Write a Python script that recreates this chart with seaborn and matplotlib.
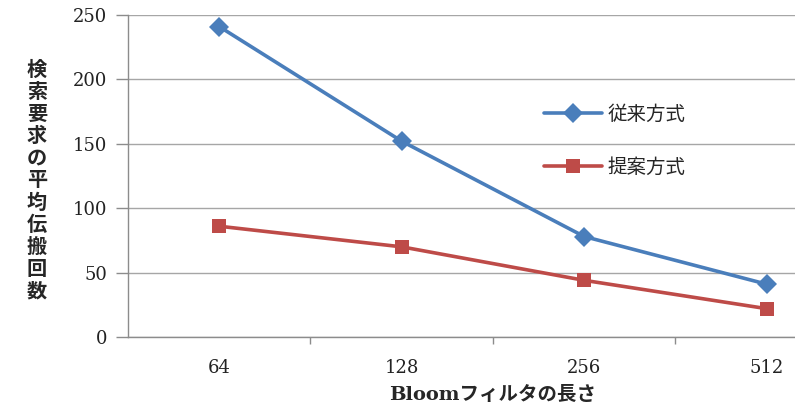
import pandas as pd
import matplotlib.pyplot as plt
import seaborn as sns

# Data
lengths = ['64', '128', '256', '512']
conventional = [241, 152, 78, 41]
proposed = [86, 70, 44, 22]
series_names = ['従来方式', '提案方式']

df = pd.DataFrame({
    'pos': list(range(len(lengths))) * 2,
    'value': conventional + proposed,
    'method': [series_names[0]] * len(lengths) + [series_names[1]] * len(lengths),
})

sns.set_style('white')
plt.rcParams['font.family'] = ['Noto Sans CJK JP', 'DejaVu Sans']

fig = plt.figure(figsize=(7.95, 4.09), dpi=100)
ax = fig.add_axes([128 / 795, 1 - 337 / 409, 1 - 128 / 795, (337 - 15) / 409])

palette = {series_names[0]: '#4a7ebb', series_names[1]: '#be4b48'}
markers = {series_names[0]: 'D', series_names[1]: 's'}
sns.lineplot(data=df, x='pos', y='value', hue='method', style='method',
             palette=palette, markers=markers, dashes=False, linewidth=2.6,
             markersize=10.5, markeredgewidth=0, ax=ax, clip_on=False)

ax.set_ylim(0, 250)
ax.set_xlim(-0.5, 3.155)
ax.set_yticks(range(0, 251, 50))
ax.set_xticks(range(len(lengths)))
ax.set_xticklabels(lengths)
ax.set_xticks([0.5, 1.5, 2.5], minor=True)

grey = '#8c8c8c'
ax.grid(axis='y', color='#a6a6a6', linewidth=1)
ax.set_axisbelow(True)
for side in ['top', 'right']:
    ax.spines[side].set_visible(False)
for side in ['left', 'bottom']:
    ax.spines[side].set_color(grey)
    ax.spines[side].set_linewidth(1)

ax.tick_params(axis='y', which='major', length=9, width=1, color=grey,
               direction='out', left=True, pad=6)
ax.tick_params(axis='x', which='major', length=0, pad=16)
ax.tick_params(axis='x', which='minor', length=5, width=1, color=grey,
               direction='out', bottom=True)
for lbl in ax.get_xticklabels() + ax.get_yticklabels():
    lbl.set_family(['DejaVu Serif'])
    lbl.set_fontsize(13)
    lbl.set_color('#222222')

ax.set_xlabel('')
ax.set_ylabel('')
fig.text(493 / 795, 1 - 395 / 409, 'Bloomフィルタの長さ', ha='center', va='center',
         fontsize=14, fontweight='bold',
         family=['DejaVu Serif', 'Noto Sans CJK JP'])
y_title = '検索要求の平均伝搬回数'
fig.text(37 / 795, 1 - 180 / 409, '\n'.join(y_title), ha='center', va='center',
         fontsize=14.5, fontweight='bold', linespacing=1.07,
         family=['Noto Sans CJK JP', 'DejaVu Sans'])

handles, labels = ax.get_legend_handles_labels()
ax.legend(handles, labels, loc='center left', bbox_to_anchor=(0.597, 0.609),
          frameon=False, fontsize=14, labelspacing=1.65, handlelength=3.0,
          handletextpad=0.3)

fig.savefig('out.png', dpi=100)
